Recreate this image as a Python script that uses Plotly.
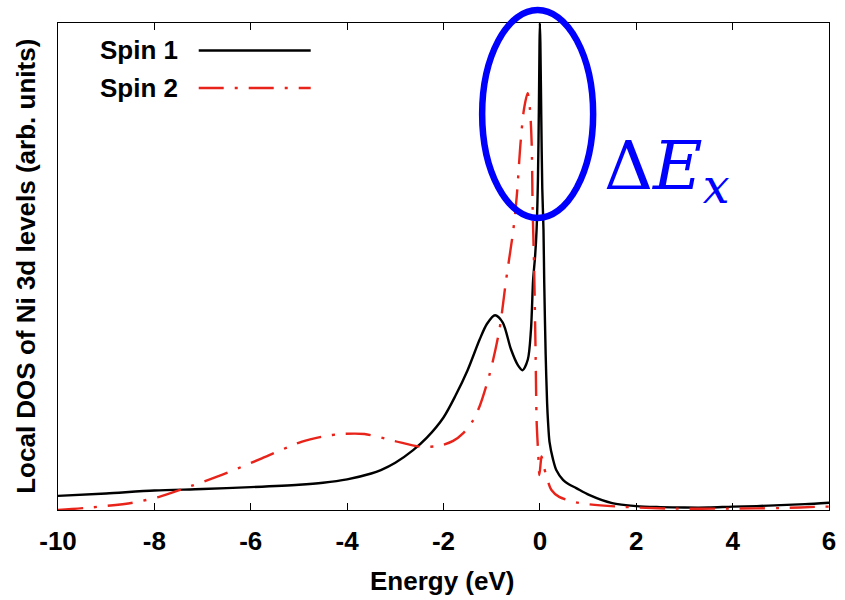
import plotly.graph_objects as go

# Spin-resolved local DOS of the Ni 3d levels (arb. units) vs energy (eV)
energy_spin1 = [-10.0, -9.0, -8.0, -7.0, -6.0, -5.0, -4.5, -4.0, -3.5, -3.3, -3.0,
                -2.63, -2.35, -2.0, -1.75, -1.5, -1.25, -1.1, -0.93, -0.77, -0.6,
                -0.46, -0.36, -0.25, -0.185, -0.14, -0.1, -0.068, -0.04, -0.02,
                -0.008, 0.0, 0.01, 0.03, 0.05, 0.075, 0.09, 0.12, 0.15, 0.17, 0.2,
                0.275, 0.34, 0.48, 0.6, 0.755, 1.02, 1.5, 2.0, 2.5, 3.0, 3.5, 4.0,
                4.5, 5.0, 5.5, 6.0]
dos_spin1 = [0.029, 0.034, 0.040, 0.043, 0.047, 0.052, 0.056, 0.063, 0.075, 0.082, 0.097,
             0.123, 0.148, 0.19, 0.235, 0.287, 0.35, 0.382, 0.40, 0.385, 0.33,
             0.298, 0.287, 0.309, 0.37, 0.473, 0.52, 0.576, 0.68, 0.83,
             0.95, 1.0, 0.96, 0.80, 0.66, 0.576, 0.47, 0.32, 0.22, 0.18, 0.14,
             0.103, 0.082, 0.062, 0.053, 0.045, 0.031, 0.014, 0.008, 0.006, 0.005, 0.005, 0.007,
             0.008, 0.010, 0.012, 0.015]

energy_spin2 = [-10.0, -9.28, -8.45, -7.9, -7.42, -6.6, -5.77, -4.95, -4.5, -4.12,
                -3.64, -3.03, -2.48, -2.08, -1.8, -1.59, -1.4, -1.25, -1.04, -0.84, -0.70,
                -0.55, -0.48, -0.40, -0.33, -0.254, -0.206, -0.171, -0.15, -0.12,
                -0.09, -0.068, -0.05, -0.035, -0.01, 0.02, 0.035, 0.08, 0.14, 0.24,
                0.4, 0.74, 1.0, 1.64, 2.67, 4.05, 5.0, 5.9, 6.0]
dos_spin2 = [0.0, 0.0055, 0.015, 0.027, 0.043, 0.072, 0.106, 0.14, 0.151, 0.156,
             0.156, 0.142, 0.13, 0.132, 0.142, 0.158, 0.182, 0.213, 0.28, 0.37, 0.473,
             0.576, 0.644, 0.755, 0.823, 0.856, 0.823, 0.755, 0.62, 0.50,
             0.33, 0.185, 0.144, 0.117, 0.072, 0.10, 0.11, 0.09, 0.068, 0.041,
             0.027, 0.016, 0.012, 0.007, 0.003, 0.003, 0.004, 0.007, 0.007]

x_ticks = [-10, -8, -6, -4, -2, 0, 2, 4, 6]
series_names = ["Spin 1", "Spin 2"]
series_colors = ["#000000", "#e8231a"]
series_dash = ["solid", "25px,11px,3px,11px"]

W, H = 845, 600
ML, MR, MT, MB = 58, 9, 23, 90
PW, PH = W - ML - MR, H - MT - MB


def paper_x(px):
    return (px - ML) / PW


def paper_y(py):
    return (H - MB - py) / PH


SANS = "Liberation Sans, Arial, Helvetica, sans-serif"

fig = go.Figure()
for xs, ys, name, color, dash in zip(
    [energy_spin1, energy_spin2], [dos_spin1, dos_spin2],
    series_names, series_colors, series_dash
):
    fig.add_trace(go.Scatter(
        x=xs, y=ys, mode="lines", name=name,
        line=dict(color=color, width=2.4, dash=dash, shape="spline", smoothing=0.8),
        showlegend=False,
    ))

# key: label on the left, line sample on the right
for i, (name, color, dash) in enumerate(zip(series_names, series_colors, series_dash)):
    ypix = 50.5 + 37.5 * i
    fig.add_annotation(
        x=paper_x(181), y=paper_y(ypix), xref="paper", yref="paper",
        text=name, showarrow=False, xanchor="right", yanchor="middle",
        font=dict(family=SANS, size=26, color="#000000", weight="bold"),
    )
    fig.add_shape(
        type="line", xref="paper", yref="paper",
        x0=paper_x(200), x1=paper_x(313), y0=paper_y(ypix), y1=paper_y(ypix),
        line=dict(color=color, width=2.4, dash=dash),
    )

# highlight of the exchange splitting near the Fermi level
fig.add_shape(
    type="circle", xref="paper", yref="paper",
    x0=paper_x(486), x1=paper_x(598), y0=paper_y(218), y1=paper_y(10),
    line=dict(color="#0000ff", width=6.5),
)
fig.add_annotation(
    x=paper_x(607), y=paper_y(170), xref="paper", yref="paper",
    text="Δ<i>E</i><sub><i>x</i></sub>", showarrow=False,
    xanchor="left", yanchor="middle",
    font=dict(family="DejaVu Serif, Liberation Serif, serif", size=68, color="#0000ff"),
)

fig.add_annotation(
    x=paper_x(25), y=0.5, xref="paper", yref="paper",
    text="Local DOS of Ni 3d levels (arb. units)", textangle=-90, showarrow=False,
    xanchor="center", yanchor="middle",
    font=dict(family=SANS, size=26, color="#000000", weight="bold"),
)
fig.add_annotation(
    x=paper_x(446), y=paper_y(581), xref="paper", yref="paper",
    text="Energy (eV)", showarrow=False, xanchor="center", yanchor="middle",
    font=dict(family=SANS, size=26, color="#000000", weight="bold"),
)

fig.update_layout(
    width=W, height=H,
    margin=dict(l=ML, r=MR, t=MT, b=MB, pad=0),
    paper_bgcolor="#ffffff", plot_bgcolor="#ffffff",
    xaxis=dict(
        range=[-10, 6], tickvals=x_ticks, ticktext=[str(v) for v in x_ticks],
        ticks="inside", ticklen=7, tickwidth=1, tickcolor="#000000",
        showline=True, linecolor="#000000", linewidth=1, mirror="allticks",
        showgrid=False, zeroline=False, ticklabelstandoff=8,
        tickfont=dict(family=SANS, size=26, color="#000000", weight="bold"),
    ),
    yaxis=dict(
        range=[0, 1.0], showticklabels=False, ticks="",
        showline=True, linecolor="#000000", linewidth=1, mirror=True,
        showgrid=False, zeroline=False,
    ),
)

fig.write_html("out.html")
